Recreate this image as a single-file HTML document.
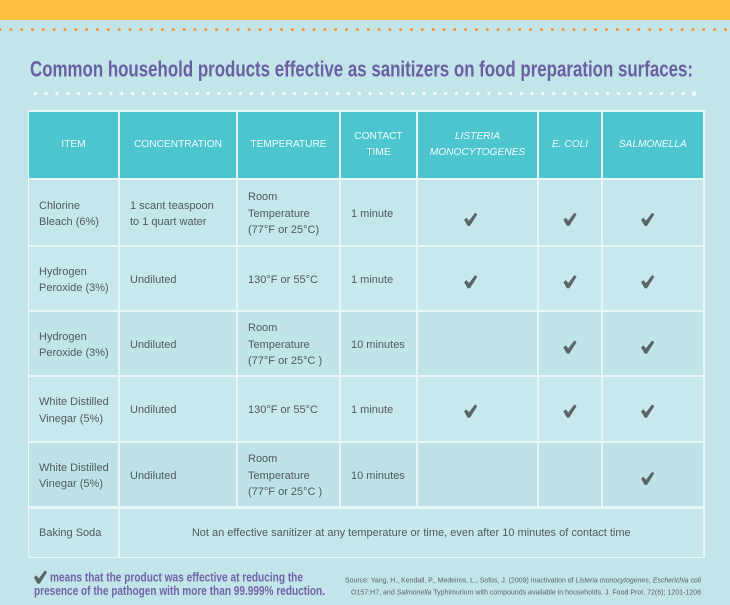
<!DOCTYPE html>
<html><head><meta charset="utf-8">
<style>
*{margin:0;padding:0;box-sizing:border-box}
html,body{width:730px;height:605px;overflow:hidden}
body{background:#c2e5e9;position:relative;font-family:"Liberation Sans",Arial,sans-serif}
.topbar{position:absolute;left:0;top:0;width:730px;height:20px;background:#fec03e}
.odots{position:absolute;left:0;top:27px;width:730px;height:5px;
 background-image:radial-gradient(circle,#f7923a 1.3px,rgba(247,146,58,0) 1.8px);
 background-size:10.83px 5px;background-position:-5.415px 0;background-repeat:repeat-x}
.wdots{position:absolute;left:29.6px;top:91px;width:660px;height:5px;
 background-image:radial-gradient(circle,#f4fbfc 1.4px,rgba(244,251,252,0) 1.9px);
 background-size:10.81px 5px;background-repeat:repeat-x}
.bigdot{position:absolute;left:692px;top:91.3px;width:4.4px;height:4.4px;border-radius:50%;background:#f4fbfc}
.tbl{position:absolute;left:27.5px;top:110px;width:677px;height:448px;background:#e9f6f8}
.c{position:absolute;display:flex;align-items:center;font-size:11px;color:#505a5c;line-height:16.5px;padding-left:10px;padding-top:3px}
.h{position:absolute;display:flex;align-items:center;justify-content:center;text-align:center;background:#4cc5cf;color:#f2fbfc;font-size:10.2px;line-height:15.5px}
.h i{font-style:italic}
</style></head><body>
<div class="topbar"></div>
<div class="odots"></div>
<svg style="position:absolute;left:0;top:0" width="730" height="110">
<text x="30" y="76.5" textLength="663" lengthAdjust="spacingAndGlyphs" font-family="'Liberation Sans Narrow','Liberation Sans',Arial,sans-serif" font-weight="bold" font-size="22" fill="#6b5fa3">Common household products effective as sanitizers on food preparation surfaces:</text>
</svg>
<div class="wdots"></div>
<div class="bigdot"></div>

<div class="tbl"></div>

<div class="h" style="left:29px;top:111.5px;width:89px;height:66.5px">ITEM</div>
<div class="h" style="left:120px;top:111.5px;width:116px;height:66.5px">CONCENTRATION</div>
<div class="h" style="left:238px;top:111.5px;width:101px;height:66.5px">TEMPERATURE</div>
<div class="h" style="left:341px;top:111.5px;width:75px;height:66.5px">CONTACT<br>TIME</div>
<div class="h" style="left:418px;top:111.5px;width:119px;height:66.5px"><i>LISTERIA<br>MONOCYTOGENES</i></div>
<div class="h" style="left:539px;top:111.5px;width:62px;height:66.5px"><i>E. COLI</i></div>
<div class="h" style="left:603px;top:111.5px;width:99.5px;height:66.5px"><i>SALMONELLA</i></div>

<div class="c" style="left:29px;top:180px;width:89px;height:65px;background:#c3e7eb">Chlorine<br>Bleach (6%)</div>
<div class="c" style="left:120px;top:180px;width:116px;height:65px;background:#c3e7eb">1 scant teaspoon<br>to 1 quart water</div>
<div class="c" style="left:238px;top:180px;width:101px;height:65px;background:#c3e7eb">Room<br>Temperature<br>(77°F or 25°C)</div>
<div class="c" style="left:341px;top:180px;width:75px;height:65px;background:#c3e7eb">1 minute</div>
<div class="c" style="left:418px;top:180px;width:119px;height:65px;background:#c3e7eb"></div>
<div class="c" style="left:539px;top:180px;width:62px;height:65px;background:#c3e7eb"></div>
<div class="c" style="left:603px;top:180px;width:99.5px;height:65px;background:#c3e7eb"></div>

<div class="c" style="left:29px;top:247px;width:89px;height:63px;background:#c7e9ed">Hydrogen<br>Peroxide (3%)</div>
<div class="c" style="left:120px;top:247px;width:116px;height:63px;background:#c7e9ed">Undiluted</div>
<div class="c" style="left:238px;top:247px;width:101px;height:63px;background:#c7e9ed">130°F or 55°C</div>
<div class="c" style="left:341px;top:247px;width:75px;height:63px;background:#c7e9ed">1 minute</div>
<div class="c" style="left:418px;top:247px;width:119px;height:63px;background:#c7e9ed"></div>
<div class="c" style="left:539px;top:247px;width:62px;height:63px;background:#c7e9ed"></div>
<div class="c" style="left:603px;top:247px;width:99.5px;height:63px;background:#c7e9ed"></div>

<div class="c" style="left:29px;top:312px;width:89px;height:63px;background:#bfe5e9">Hydrogen<br>Peroxide (3%)</div>
<div class="c" style="left:120px;top:312px;width:116px;height:63px;background:#bfe5e9">Undiluted</div>
<div class="c" style="left:238px;top:312px;width:101px;height:63px;background:#bfe5e9">Room<br>Temperature<br>(77°F or 25°C )</div>
<div class="c" style="left:341px;top:312px;width:75px;height:63px;background:#bfe5e9">10 minutes</div>
<div class="c" style="left:418px;top:312px;width:119px;height:63px;background:#bfe5e9"></div>
<div class="c" style="left:539px;top:312px;width:62px;height:63px;background:#bfe5e9"></div>
<div class="c" style="left:603px;top:312px;width:99.5px;height:63px;background:#bfe5e9"></div>

<div class="c" style="left:29px;top:377px;width:89px;height:64px;background:#c7e9ed">White Distilled<br>Vinegar (5%)</div>
<div class="c" style="left:120px;top:377px;width:116px;height:64px;background:#c7e9ed">Undiluted</div>
<div class="c" style="left:238px;top:377px;width:101px;height:64px;background:#c7e9ed">130°F or 55°C</div>
<div class="c" style="left:341px;top:377px;width:75px;height:64px;background:#c7e9ed">1 minute</div>
<div class="c" style="left:418px;top:377px;width:119px;height:64px;background:#c7e9ed"></div>
<div class="c" style="left:539px;top:377px;width:62px;height:64px;background:#c7e9ed"></div>
<div class="c" style="left:603px;top:377px;width:99.5px;height:64px;background:#c7e9ed"></div>

<div class="c" style="left:29px;top:443px;width:89px;height:63px;background:#bde3e8">White Distilled<br>Vinegar (5%)</div>
<div class="c" style="left:120px;top:443px;width:116px;height:63px;background:#bde3e8">Undiluted</div>
<div class="c" style="left:238px;top:443px;width:101px;height:63px;background:#bde3e8">Room<br>Temperature<br>(77°F or 25°C )</div>
<div class="c" style="left:341px;top:443px;width:75px;height:63px;background:#bde3e8">10 minutes</div>
<div class="c" style="left:418px;top:443px;width:119px;height:63px;background:#bde3e8"></div>
<div class="c" style="left:539px;top:443px;width:62px;height:63px;background:#bde3e8"></div>
<div class="c" style="left:603px;top:443px;width:99.5px;height:63px;background:#bde3e8"></div>

<div class="c" style="left:29px;top:508.5px;width:89px;height:48px;background:#c6e8ec;padding-top:2px">Baking Soda</div>
<div class="c" style="left:120px;top:508.5px;width:582.5px;height:48px;background:#c6e8ec;justify-content:center;padding-left:0;padding-top:2px">Not an effective sanitizer at any temperature or time, even after 10 minutes of contact time</div>

<svg width="730" height="605" style="position:absolute;left:0;top:0">
<defs>
<path id="ck" d="M-6.6,0.4 L-4.2,-1.6 L-1.7,1.4 L4.4,-6.6 L6.6,-4.9 L-0.7,6.6 L-3.1,6.6 Z" fill="#5a6567"/>
</defs>
<use href="#ck" x="470.7" y="219.3"/>
<use href="#ck" x="570" y="219.3"/>
<use href="#ck" x="647.7" y="219.3"/>
<use href="#ck" x="470.7" y="281.7"/>
<use href="#ck" x="570" y="281.7"/>
<use href="#ck" x="647.7" y="281.7"/>
<use href="#ck" x="570" y="347"/>
<use href="#ck" x="647.7" y="347"/>
<use href="#ck" x="470.7" y="411"/>
<use href="#ck" x="570" y="411"/>
<use href="#ck" x="647.7" y="411"/>
<use href="#ck" x="647.7" y="478.3"/>
<use href="#ck" x="40.5" y="577"/>

<text x="50" y="581.7" textLength="253" lengthAdjust="spacingAndGlyphs" font-family="'Liberation Sans Narrow','Liberation Sans',Arial,sans-serif" font-weight="bold" font-size="12.6" fill="#7263a8">means that the product was effective at reducing the</text>
<text x="34" y="595" textLength="291" lengthAdjust="spacingAndGlyphs" font-family="'Liberation Sans Narrow','Liberation Sans',Arial,sans-serif" font-weight="bold" font-size="12.6" fill="#7263a8">presence of the pathogen with more than 99.999% reduction.</text>

<text x="345" y="582.3" textLength="356" lengthAdjust="spacingAndGlyphs" font-family="'Liberation Sans',Arial,sans-serif" font-size="7" fill="#5a6466">Source: Yang, H., Kendall, P., Medeiros, L., Sofos, J. (2009) Inactivation of <tspan font-style="italic">Listeria monocytogenes</tspan>, <tspan font-style="italic">Escherichia coli</tspan></text>
<text x="351" y="594.5" textLength="350" lengthAdjust="spacingAndGlyphs" font-family="'Liberation Sans',Arial,sans-serif" font-size="7" fill="#5a6466">O157:H7, and <tspan font-style="italic">Salmonella</tspan> Typhimurium with compounds available in households. J. Food Prot. 72(6); 1201-1208</text>
</svg>
</body></html>
